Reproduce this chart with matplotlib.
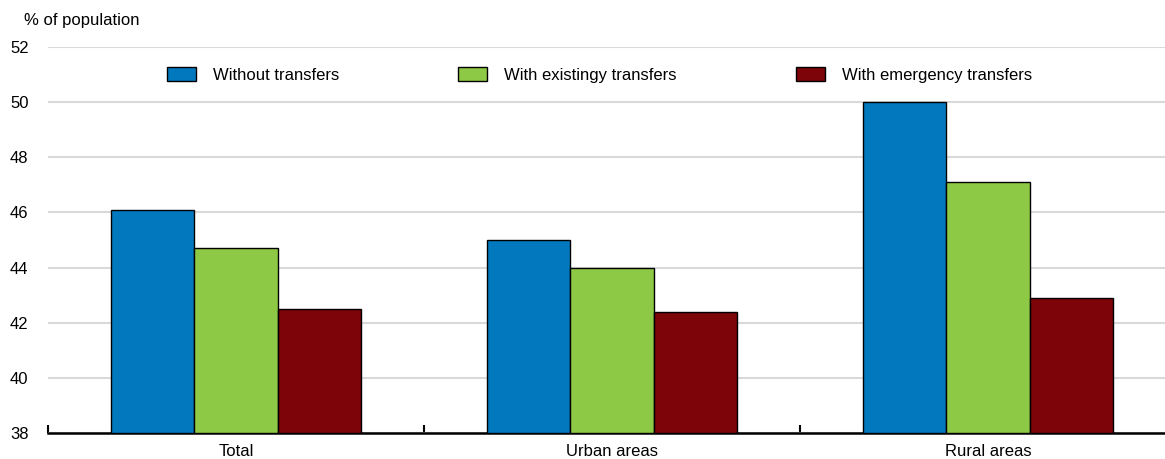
import matplotlib
matplotlib.use("Agg")
import matplotlib.pyplot as plt
from matplotlib import font_manager
import numpy as np

available = {f.name for f in font_manager.fontManager.ttflist}
if "Liberation Sans Narrow" in available:
    plt.rcParams['font.family'] = ['Liberation Sans Narrow', 'Liberation Sans', 'DejaVu Sans']
    FS = 14.5
else:
    plt.rcParams['font.family'] = ['Liberation Sans', 'DejaVu Sans']
    FS = 12

categories = ["Total", "Urban areas", "Rural areas"]
series_names = ["Without transfers", "With existingy transfers", "With emergency transfers"]
without_transfers = [46.1, 45.0, 50.0]
existing_transfers = [44.7, 44.0, 47.1]
emergency_transfers = [42.5, 42.4, 42.9]
y_ticks = [38, 40, 42, 44, 46, 48, 50, 52]

colors = ["#0279BF", "#8DC944", "#7D0408"]
series = [without_transfers, existing_transfers, emergency_transfers]

W, H = 1165, 459
fig = plt.figure(figsize=(W / 100, H / 100), dpi=100)
ax = fig.add_axes([48 / W, 1 - 433 / H, 1 - 48 / W, (433 - 47) / H])

x = np.arange(len(categories))
width = 0.222
for i, (vals, name, c) in enumerate(zip(series, series_names, colors)):
    ax.bar(x + (i - 1) * width, np.array(vals) - 38, width, bottom=38,
           color=c, edgecolor="black", linewidth=1.0, label=name, zorder=3)

ax.set_yticks(y_ticks)
ax.set_yticklabels([str(t) for t in y_ticks], fontsize=FS)
ax.yaxis.grid(True, color="#d9d9d9", linewidth=1.5, zorder=0)
ax.set_axisbelow(True)
ax.tick_params(axis="y", length=0, pad=14)

# category labels centred, boundary ticks pointing up
ax.set_xticks(x)
ax.set_xticklabels(categories, fontsize=FS)
ax.tick_params(axis="x", which="major", length=0, pad=8)
ax.set_xticks([-0.5, 0.5, 1.5, 2.5], minor=True)
ax.tick_params(axis="x", which="minor", direction="in", length=6, width=1.5, color="black")

ax.set_ylim(38, 52)
ax.set_xlim(-0.5, 2.47)

for s in ["top", "right", "left"]:
    ax.spines[s].set_visible(False)
ax.spines["bottom"].set_linewidth(1.8)
ax.spines["bottom"].set_color("black")

fig.text(24 / W, 1 - 21 / H, "% of population", fontsize=FS, va="center", ha="left")

fs_px = FS * 100 / 72
leg = ax.legend(loc="center left",
                bbox_to_anchor=((167 - 48) / (W - 48), (433 - 75) / (433 - 47)),
                ncol=3, frameon=False, fontsize=FS, borderpad=0, borderaxespad=0,
                handlelength=29 / fs_px, handleheight=14 / fs_px,
                handletextpad=17 / fs_px, columnspacing=119 / fs_px)
for h in leg.legend_handles:
    h.set_linewidth(1.0)

fig.savefig("out.png", dpi=100)
